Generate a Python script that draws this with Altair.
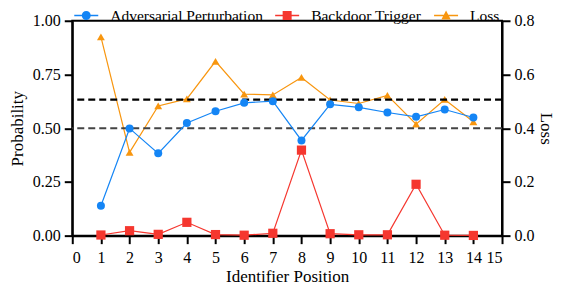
import altair as alt
import pandas as pd

positions = list(range(1, 15))
adv_perturbation = [0.139, 0.499, 0.383, 0.524, 0.579, 0.618, 0.626, 0.443, 0.611, 0.597, 0.573, 0.553, 0.587, 0.550]
backdoor_trigger = [0.003, 0.023, 0.006, 0.062, 0.005, 0.002, 0.011, 0.398, 0.009, 0.004, 0.004, 0.239, 0.002, 0.001]
loss = [0.740, 0.310, 0.483, 0.509, 0.649, 0.527, 0.524, 0.589, 0.505, 0.492, 0.522, 0.415, 0.507, 0.424]
ref_lines = [0.50, 0.633]
ref_colors = ["#444444", "#000000"]
ref_widths = [2.0, 2.4]

series_names = ["Adversarial Perturbation", "Backdoor Trigger", "Loss"]
series_colors = ["#1485f5", "#f5372f", "#f8960f"]
series_shapes = ["circle", "square", "triangle-up"]
series_sizes = [64, 85, 62]

FONT = "Liberation Serif"

prob_df = pd.DataFrame({
    "pos": positions * 2,
    "value": adv_perturbation + backdoor_trigger,
    "series": [series_names[0]] * 14 + [series_names[1]] * 14,
})
loss_df = pd.DataFrame({"pos": positions, "value": loss, "series": [series_names[2]] * 14})
ref_df = pd.DataFrame({"y": ref_lines, "c": ref_colors, "w": ref_widths})
legend_df = pd.DataFrame({"series": series_names})

# legend handles: a short line with the marker in its middle
bar = "M-1.2,-0.07L1.2,-0.07L1.2,0.07L-1.2,0.07Z"
handle_paths = [
    bar + "M0.45,0A0.45,0.45 0 1,1 -0.45,0A0.45,0.45 0 1,1 0.45,0Z",
    bar + "M-0.45,-0.45L0.45,-0.45L0.45,0.45L-0.45,0.45Z",
    bar + "M0,-0.5L0.47,0.4L-0.47,0.4Z",
]

legend_kw = dict(
    title=None, orient="none", direction="horizontal", legendX=4, legendY=-15.5,
    labelFont=FONT, labelFontSize=15.5, labelColor="black", symbolSize=400,
    columnPadding=12, labelOffset=14, symbolStrokeWidth=0, symbolOpacity=1,
)
color = alt.Color("series:N", scale=alt.Scale(domain=series_names, range=series_colors),
                  legend=alt.Legend(**legend_kw))
legend_shape = alt.Shape("series:N", scale=alt.Scale(domain=series_names, range=handle_paths),
                         legend=alt.Legend(**legend_kw))

xenc = alt.X("pos:Q", scale=alt.Scale(domain=[0, 15], nice=False),
             axis=alt.Axis(title="Identifier Position", values=list(range(0, 16)), format="d",
                           labelPadding=6, titlePadding=3))

yprob = alt.Y("value:Q", scale=alt.Scale(domain=[0, 1], nice=False),
              axis=alt.Axis(title="Probability", values=[0, 0.25, 0.5, 0.75, 1.0], format=".2f",
                            orient="left", titlePadding=6))
yloss = alt.Y("value:Q", scale=alt.Scale(domain=[0, 0.8], nice=False),
              axis=alt.Axis(title="Loss", values=[0, 0.2, 0.4, 0.6, 0.8], format=".1f", orient="right",
                            titleAngle=90, titlePadding=2))


def points(df, name, yenc):
    i = series_names.index(name)
    return alt.Chart(df).transform_filter(alt.datum.series == name).mark_point(
        filled=True, opacity=1, shape=series_shapes[i], size=series_sizes[i]
    ).encode(x=xenc, y=yenc, color=color)


loss_line = alt.Chart(loss_df).mark_line(strokeWidth=1.2).encode(x=xenc, y=yloss, color=color)
loss_layer = alt.layer(loss_line, points(loss_df, series_names[2], yloss))

refs = alt.Chart(ref_df).mark_rule(strokeDash=[7, 4]).encode(
    y=alt.Y("y:Q", scale=alt.Scale(domain=[0, 1], nice=False)),
    color=alt.Color("c:N", scale=None),
    strokeWidth=alt.StrokeWidth("w:Q", scale=None))
prob_line = alt.Chart(prob_df).mark_line(strokeWidth=1.2).encode(x=xenc, y=yprob, color=color)
legend_layer = alt.Chart(legend_df).mark_point(filled=True, opacity=0).encode(
    color=color, shape=legend_shape)
prob_layer = alt.layer(refs, prob_line,
                       points(prob_df, series_names[0], yprob),
                       points(prob_df, series_names[1], yprob),
                       legend_layer)

chart = alt.layer(loss_layer, prob_layer).resolve_scale(y="independent").properties(
    width=430, height=215,
    autosize=alt.AutoSizeParams(type="none"),
    padding={"left": 64.3, "top": 12.7, "right": 53, "bottom": 48.5},
).configure_view(stroke="black", strokeWidth=2).configure_axis(
    grid=False, domainColor="black", domainWidth=2, tickColor="black", tickWidth=2, tickSize=8,
    labelFont=FONT, labelFontSize=16, labelColor="black", titleFont=FONT, titleFontSize=17,
    titleFontWeight="normal", titleColor="black", labelPadding=4,
).configure_axisX(labelAngle=0)

chart.save("out.html", embed_options={"renderer": "svg", "actions": False})
